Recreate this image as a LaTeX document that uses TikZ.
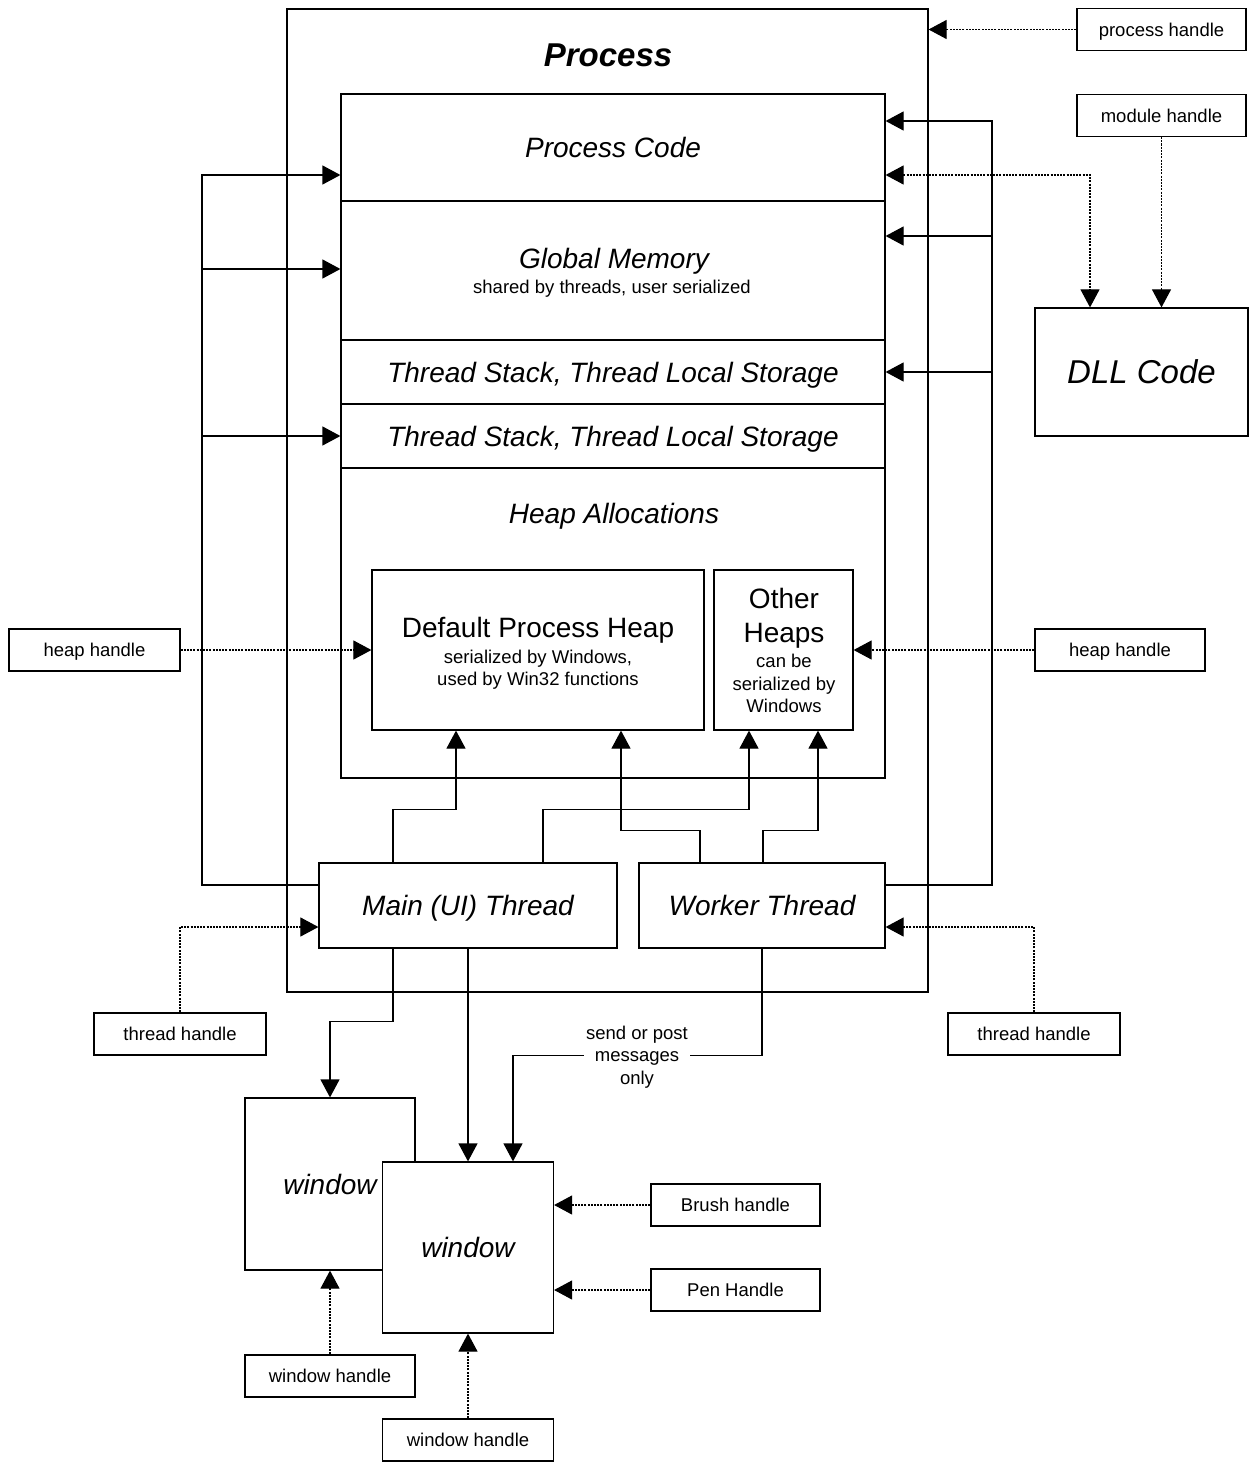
\documentclass[tikz,border=0pt]{standalone}
\usepackage{fontspec}
\setmainfont{Liberation Sans}
\usetikzlibrary{arrows.meta}
\begin{document}
\begin{tikzpicture}[x=1pt,y=-1pt,
  line width=1.2pt,
  box/.style={draw, fill=white, inner sep=0pt},
  wh/.style 2 args={minimum width=#1pt, minimum height=#2pt},
  big/.style={font=\fontsize{28}{34}\selectfont\itshape, text height=20pt, text depth=0pt},
  bigup/.style={font=\fontsize{28}{34}\selectfont, inner sep=0pt, text height=20pt, text depth=0pt},
  huge/.style={font=\fontsize{33}{40}\selectfont\itshape, text height=23.6pt, text depth=0pt},
  small/.style={font=\fontsize{18.5}{22.5}\selectfont, inner sep=0pt, text height=13.2pt, text depth=0pt},
  hbox/.style={box, minimum height=42pt, font=\fontsize{18.5}{22.5}\selectfont, text height=13.2pt, text depth=0pt},
  arr/.style={-{Triangle[length=18pt,width=19pt]}},
  dot/.style={line width=1.1pt, dash pattern=on 2pt off 1.2pt}
]
\useasboundingbox (0,0) rectangle (1251,1469);

% process box
\node[box, wh={641}{983}] (proc) at (607.5,500.5) {};
\node[font=\fontsize{33}{40}\selectfont\bfseries\itshape, text height=23.6pt, text depth=0pt] (proct) at (608,55) {Process};

% memory segments
\node[box, wh={544}{107}, big] (code) at (613,147.5) {Process Code};
\node[box, wh={544}{139}] (glob) at (613,270.5) {};
\node[big, inner sep=0pt] (globt) at (614,258) {Global Memory};
\node[small] (globs) at (612,287) {shared by threads, user serialized};
\node[box, wh={544}{64}, big] (ts1) at (613,372) {Thread Stack, Thread Local Storage};
\node[box, wh={544}{64}, big] (ts2) at (613,436) {Thread Stack, Thread Local Storage};
\node[box, wh={544}{310}] (heap) at (613,623) {};
\node[big, inner sep=0pt] (heapt) at (614,513) {Heap Allocations};

% heaps
\node[box, wh={332}{160}] (dheap) at (538,650) {};
\node[bigup] (dheapt) at (538,627) {Default Process Heap};
\node[small] (dheaps1) at (538,657) {serialized by Windows,};
\node[small] (dheaps2) at (538,679) {used by Win32 functions};
\node[box, wh={139}{160}] (oheap) at (783.5,650) {};
\node[bigup] (oheapt1) at (784,598) {Other};
\node[bigup] (oheapt2) at (784,632) {Heaps};
\node[small] (oheaps1) at (784,661) {can be};
\node[small] (oheaps2) at (784,684) {serialized by};
\node[small] (oheaps3) at (784,706) {Windows};

% threads
\node[box, wh={298}{85}, big] (main) at (468,905.5) {Main (UI) Thread};
\node[box, wh={246}{85}, big] (worker) at (762,905.5) {Worker Thread};

% DLL
\node[box, wh={213}{128}, huge] (dll) at (1141.5,372) {DLL Code};

% handles
\node[hbox, minimum width=169pt] (ph) at (1161.5,29.5) {process handle};
\node[hbox, minimum width=169pt] (mh) at (1161.5,115.5) {module handle};
\node[hbox, minimum width=171pt] (hhl) at (94.5,650) {heap handle};
\node[hbox, minimum width=170pt] (hhr) at (1120,650) {heap handle};
\node[hbox, minimum width=172pt] (thl) at (180,1034) {thread handle};
\node[hbox, minimum width=172pt] (thr) at (1034,1034) {thread handle};

% windows
\node[box, wh={170}{172}, big] (bw) at (330,1184) {window};
\node[box, wh={171}{171}, big] (fw) at (468,1247.5) {window};
\node[hbox, minimum width=169pt] (brush) at (735.5,1205) {Brush handle};
\node[hbox, minimum width=169pt] (pen) at (735.5,1290) {Pen Handle};
\node[hbox, minimum width=170pt] (whl) at (330,1376) {window handle};
\node[hbox, minimum width=171pt] (whb) at (468,1440) {window handle};

% right bus from worker thread
\draw[arr] ([yshift=20.5pt]worker.east) -| (992,121) -- ([yshift=26.5pt]code.east);
\draw[arr] (992,236) -- ([yshift=34.5pt]glob.east);
\draw[arr] (992,372) -- (ts1.east);

% left bus from main thread
\draw[arr] ([yshift=20.5pt]main.west) -| (202,175) -- ([yshift=-27.5pt]code.west);
\draw[arr] (202,269) -- ([yshift=1.5pt]glob.west);
\draw[arr] (202,436) -- (ts2.west);

% process handle, module handle, DLL
\draw[dot, arr] (ph.west) -- (ph.west -| proc.east);
\draw[dot, arr] (mh.south) -- ([xshift=20pt]dll.north);
\draw[dot, {Triangle[length=18pt,width=19pt]}-{Triangle[length=18pt,width=19pt]}]
  ([yshift=-27.5pt]code.east) -| ([xshift=-51.5pt]dll.north);

% heap handles
\draw[dot, arr] (hhl.east) -- (hhl.east -| dheap.west);
\draw[dot, arr] (hhr.west) -- (hhr.west -| oheap.east);

% thread handles
\draw[dot, arr] (thl.north) |- ([yshift=-21.5pt]main.west);
\draw[dot, arr] (thr.north) |- ([yshift=-21.5pt]worker.east);

% threads to heaps
\draw[arr] ([xshift=-75pt]main.north) -- ++(0,-53) -| ([xshift=-82pt]dheap.south);
\draw[arr] ([xshift=75pt]main.north) -- ++(0,-53) -| ([xshift=-34.5pt]oheap.south);
\draw[arr] ([xshift=-62pt]worker.north) -- ++(0,-32) -| ([xshift=83pt]dheap.south);
\draw[arr] ([xshift=1pt]worker.north) -- ++(0,-32) -| ([xshift=34.5pt]oheap.south);

% threads to windows
\draw[arr] ([xshift=-75pt]main.south) -- ++(0,73) -| (bw.north);
\draw[arr] (main.south) -- (fw.north);
\draw[arr] (worker.south) -- ++(0,107) -| ([xshift=45pt]fw.north);
\node[font=\fontsize{18.5}{22.5}\selectfont, fill=white, align=center, inner sep=2pt] (msg) at (637,1057) {send or post\\messages\\only};

% window handles, brush, pen
\draw[dot, arr] (whl.north) -- (bw.south);
\draw[dot, arr] (whb.north) -- (fw.south);
\draw[dot, arr] (brush.west) -- (brush.west -| fw.east);
\draw[dot, arr] (pen.west) -- (pen.west -| fw.east);
\end{tikzpicture}
\end{document}
